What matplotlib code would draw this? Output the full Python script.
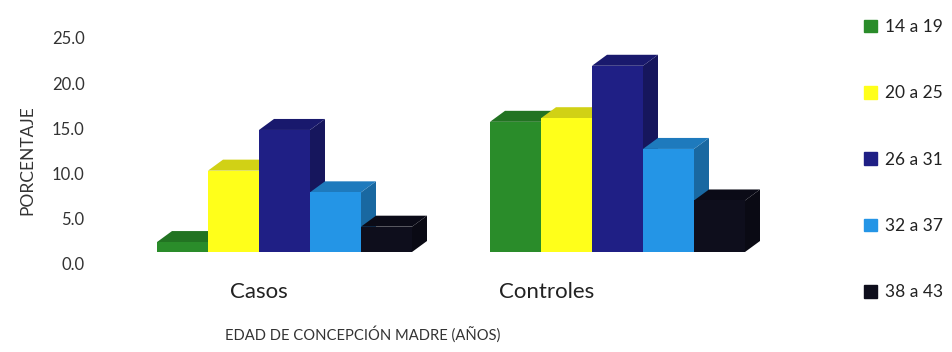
import matplotlib
matplotlib.use("Agg")
import matplotlib.pyplot as plt
import matplotlib.colors as mcolors
import matplotlib.transforms as mtransforms
from matplotlib.patches import Patch

plt.rcParams['font.family'] = ['Lato', 'DejaVu Sans']

# data (front face heights, %)
groups = ['Casos', 'Controles']
age_ranges = ['14 a 19', '20 a 25', '26 a 31', '32 a 37', '38 a 43']
casos = [1.1, 9.0, 13.5, 6.6, 2.8]
controles = [14.4, 14.8, 20.6, 11.4, 5.7]
colors = ['#2A8C2A', '#FFFF1A', '#1F1F85', '#2495E6', '#0E0E1C']

values = [casos, controles]


def shade(c, f):
    r, g, b = mcolors.to_rgb(c)
    return (r * f, g * f, b * f)


fig = plt.figure(figsize=(9.53, 3.52), dpi=100)
W, H = 953, 352
ax = fig.add_axes([100 / W, 87 / H, 680 / W, 245 / H])

px_x = 51.0  # pixels per bar width
px_y = 9.04  # pixels per percent
ax.set_xlim(-(284.5 - 100) / px_x, (780 - 284.5) / px_x)
ax.set_ylim(-(265 - 252) / px_y, (252 - 20) / px_y)

centers = [0, 333 / px_x]
dx = 15 / px_x
dy = 11 / px_y

for i, (lab, col) in enumerate(zip(age_ranges, colors)):
    xs = [c + (i - 2) for c in centers]
    vs = [values[g][i] for g in range(len(groups))]
    for x, v in zip(xs, vs):
        l, r = x - 0.5, x + 0.5
        ax.fill([r, r + dx, r + dx, r], [0, dy, v + dy, v],
                color=shade(col, 0.7), lw=0, zorder=2 + 2 * i)
        ax.fill([l, r, r + dx, l + dx], [v, v, v + dy, v + dy],
                color=shade(col, 0.82), lw=0, zorder=2 + 2 * i)
    ax.bar(xs, vs, width=1.0, color=col, lw=0, zorder=3 + 2 * i)

for s in ax.spines.values():
    s.set_visible(False)

ax.set_yticks([0, 5, 10, 15, 20, 25])
ax.set_yticklabels(['%.1f' % t for t in [0, 5, 10, 15, 20, 25]])
ax.tick_params(axis='y', length=0, pad=11, labelsize=12, labelcolor='#333333')
off = mtransforms.ScaledTranslation(0, -12 / 100, fig.dpi_scale_trans)
for t in ax.get_yticklabels():
    t.set_transform(t.get_transform() + off)

ax.set_xticks(centers)
ax.set_xticklabels(groups)
ax.tick_params(axis='x', length=0, pad=12, labelsize=16, labelcolor='#222222')
for t, sh in zip(ax.get_xticklabels(), [-26, -71]):
    t.set_transform(t.get_transform() + mtransforms.ScaledTranslation(sh / 100, 0, fig.dpi_scale_trans))

ax.set_ylabel('PORCENTAJE', fontsize=12.5, color='#333333', va='center')
ax.yaxis.set_label_coords((27 - 100) / 680, (265 - 160) / 245)
ax.set_xlabel('EDAD DE CONCEPCIÓN MADRE (AÑOS)', fontsize=10.6, color='#333333', va='center')
ax.xaxis.set_label_coords((363 - 100) / 680, (265 - 334) / 245)

handles = [Patch(color=c) for c in colors]
fig.legend(handles, age_ranges, loc='upper left', bbox_to_anchor=(864 / W, 1 - 19 / H),
           frameon=False, fontsize=12.5, labelspacing=2.9, handlelength=0.75,
           handleheight=0.75, handletextpad=0.45, borderpad=0, borderaxespad=0,
           labelcolor='#222222')

fig.savefig('out.png', dpi=100)
